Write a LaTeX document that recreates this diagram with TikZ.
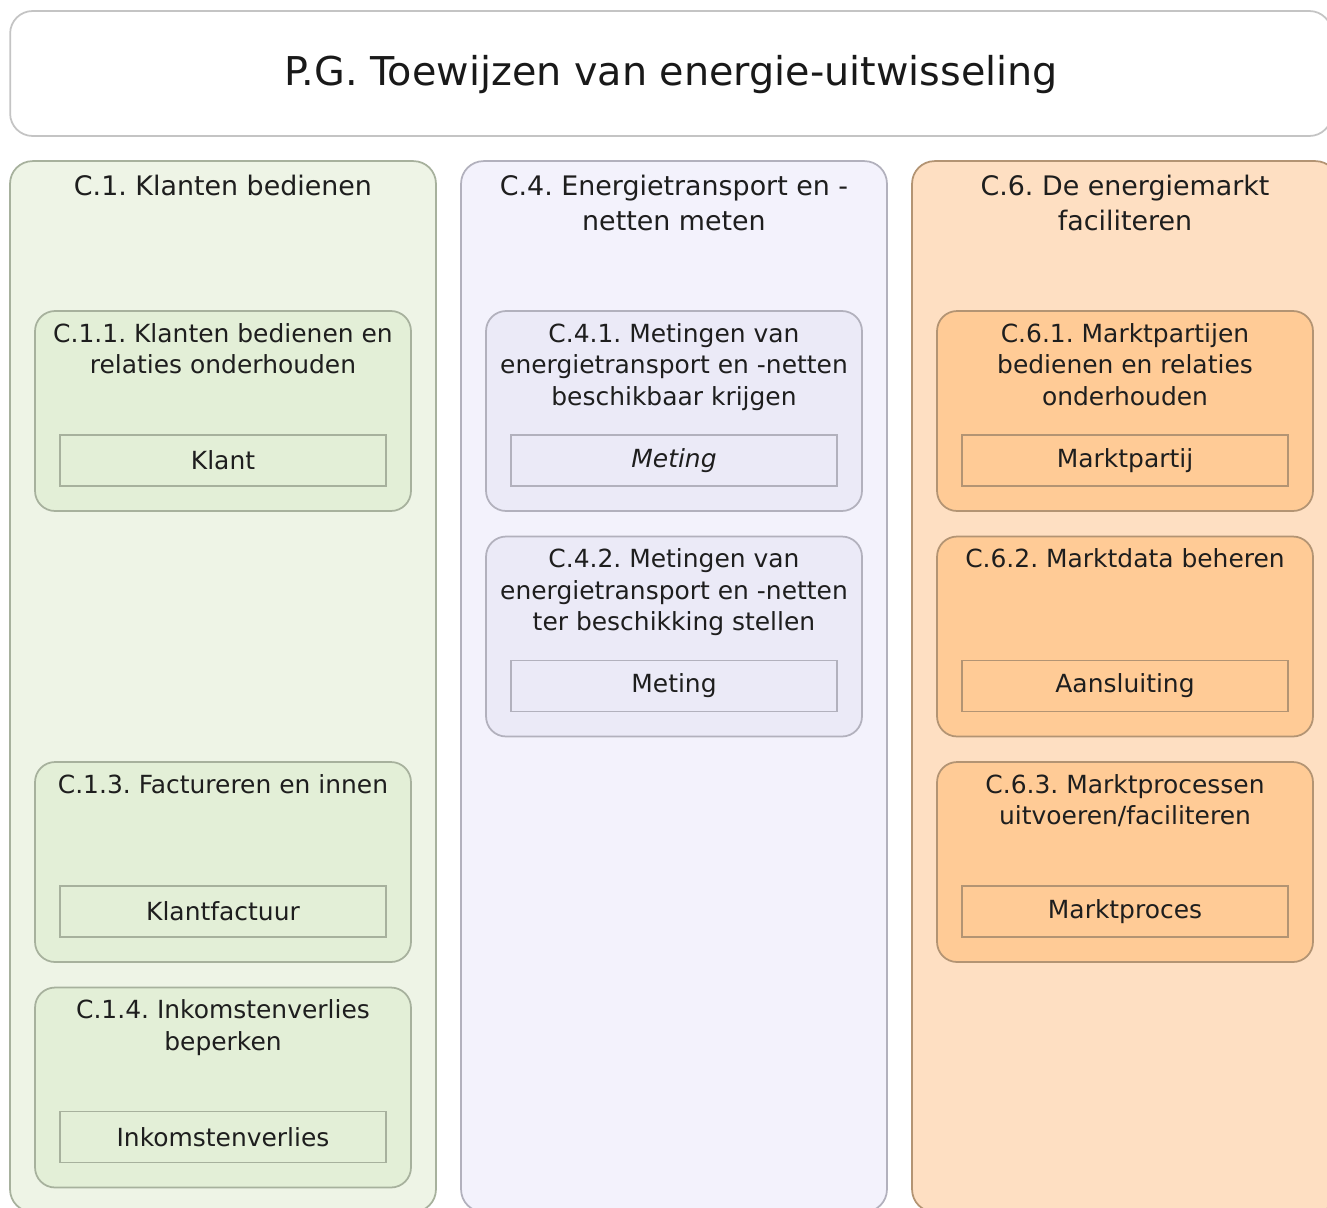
\documentclass[tikz,border=0pt]{standalone}
\usepackage{fontspec}
\setmainfont{DejaVu Sans}
\usetikzlibrary{positioning}
\frenchspacing

\definecolor{inkText}{HTML}{1E1E1E}
\definecolor{titleLine}{HTML}{C4C4C4}
\definecolor{greenCol}{HTML}{EEF4E6}
\definecolor{greenCap}{HTML}{E3EFD7}
\definecolor{greenLine}{HTML}{A7B19D}
\definecolor{lilacCol}{HTML}{F3F2FC}
\definecolor{lilacCap}{HTML}{EBEAF7}
\definecolor{lilacLine}{HTML}{B2B1BD}
\definecolor{orangeCol}{HTML}{FEDFC2}
\definecolor{orangeCap}{HTML}{FFCB96}
\definecolor{orangeLine}{HTML}{B39473}

\begin{document}
\begin{tikzpicture}[
  x=0.02cm, y=-0.02cm,
  every node/.style={text=inkText},
  frame/.style={draw, line width=1pt},
  column/.style={frame, rounded corners=0.45cm,
    minimum width=8.52cm, minimum height=21.02cm},
  capability/.style={frame, rounded corners=0.4cm,
    minimum width=7.52cm, minimum height=4cm},
  entity/.style={frame, minimum width=6.52cm, minimum height=1.02cm,
    font=\fontsize{14.2}{17}\selectfont},
  coltitle/.style={inner sep=0pt, align=center,
    font=\fontsize{15.3}{19.8}\selectfont},
  captitle/.style={inner sep=0pt, align=center,
    font=\fontsize{14.2}{17.9}\selectfont},
  green/.style={fill=greenCap, draw=greenLine},
  lilac/.style={fill=lilacCap, draw=lilacLine},
  orange/.style={fill=orangeCap, draw=orangeLine}
]
\clip (0,0) rectangle (1327,1207);

% title
\node[frame, draw=titleLine, fill=white, rounded corners=0.45cm,
  minimum width=26.44cm, minimum height=2.5cm] (pg) at (671,73.5) {};
\node[font=\fontsize{22.6}{27}\selectfont, text=black!90] (pgtitle)
  at ([yshift=-0.03cm]pg.center) {P.G. Toewijzen van energie-uitwisseling};

% columns
\node[column, fill=greenCol, draw=greenLine] (c1) at (223,686.5) {};
\node[coltitle, below=0.29cm of c1.north] (c1t) {C.1. Klanten bedienen};
\node[column, fill=lilacCol, draw=lilacLine] (c4) at (674,686.5) {};
\node[coltitle, below=0.29cm of c4.north] (c4t)
  {C.4. Energietransport en -\\netten meten};
\node[column, fill=orangeCol, draw=orangeLine] (c6) at (1125,686.5) {};
\node[coltitle, below=0.29cm of c6.north] (c6t)
  {C.6. De energiemarkt\\faciliteren};

% C.1
\node[capability, green] (c11) at (223,411) {};
\node[captitle, below=0.26cm of c11.north]
  {C.1.1. Klanten bedienen en\\relaties onderhouden};
\node[entity, green, above=0.5cm of c11.south] (klant) {Klant};
\node[capability, green] (c13) at (223,862) {};
\node[captitle, below=0.26cm of c13.north] {C.1.3. Factureren en innen};
\node[entity, green, above=0.5cm of c13.south] (klantfactuur) {Klantfactuur};
\node[capability, green] (c14) at (223,1087.5) {};
\node[captitle, below=0.26cm of c14.north]
  {C.1.4. Inkomstenverlies\\beperken};
\node[entity, green, above=0.5cm of c14.south] (inkomstenverlies)
  {Inkomstenverlies};

% C.4
\node[capability, lilac] (c41) at (674,411) {};
\node[captitle, below=0.26cm of c41.north]
  {C.4.1. Metingen van\\energietransport en -netten\\beschikbaar krijgen};
\node[entity, lilac, above=0.5cm of c41.south] (meting1) {\itshape Meting};
\node[capability, lilac] (c42) at (674,636.5) {};
\node[captitle, below=0.26cm of c42.north]
  {C.4.2. Metingen van\\energietransport en -netten\\ter beschikking stellen};
\node[entity, lilac, above=0.5cm of c42.south] (meting2) {Meting};

% C.6
\node[capability, orange] (c61) at (1125,411) {};
\node[captitle, below=0.26cm of c61.north]
  {C.6.1. Marktpartijen\\bedienen en relaties\\onderhouden};
\node[entity, orange, above=0.5cm of c61.south] (marktpartij) {Marktpartij};
\node[capability, orange] (c62) at (1125,636.5) {};
\node[captitle, below=0.26cm of c62.north] {C.6.2. Marktdata beheren};
\node[entity, orange, above=0.5cm of c62.south] (aansluiting) {Aansluiting};
\node[capability, orange] (c63) at (1125,862) {};
\node[captitle, below=0.26cm of c63.north]
  {C.6.3. Marktprocessen\\uitvoeren/faciliteren};
\node[entity, orange, above=0.5cm of c63.south] (marktproces) {Marktproces};
\end{tikzpicture}
\end{document}
